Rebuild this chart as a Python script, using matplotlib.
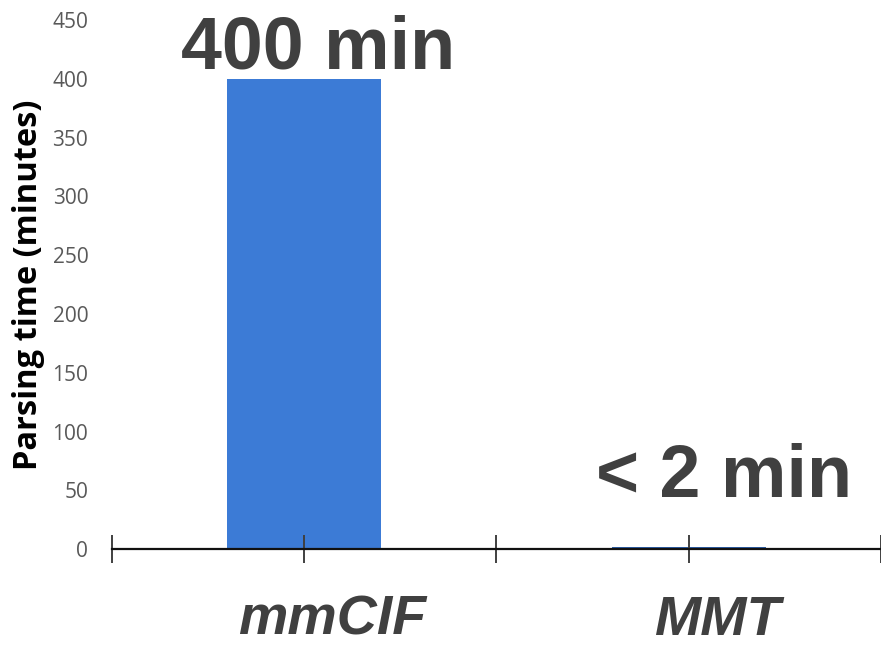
import matplotlib.pyplot as plt
from matplotlib.transforms import ScaledTranslation

formats = ['mmCIF', 'MMT']
minutes = [400, 2]
labels = ['400 min', '< 2 min']
bar_colors = ['#3c7bd6', '#2d5fa8']

fig = plt.figure(figsize=(8.81, 6.46), dpi=100)
ax = fig.add_axes([0.127, 0.150, 0.873, 0.819])

pos = [0.5, 1.5]
ax.bar(pos, minutes, width=0.4, color=bar_colors)

ax.set_xlim(0, 2)
ax.set_ylim(0, 450)
ax.set_yticks(range(0, 451, 50))
ax.tick_params(axis='y', length=0, pad=17, labelsize=15, labelcolor='#595959')
for t in ax.get_yticklabels():
    t.set_fontfamily('Open Sans')

# category labels, shifted a little to the right
ax.xaxis.remove_overlapping_locs = False
ax.set_xticks(pos)
ax.set_xticklabels(formats, fontsize=40, fontweight='bold', fontstyle='italic',
                   color='#404040', fontfamily='Liberation Sans')
ax.tick_params(axis='x', which='major', length=0, pad=33)
shift = ScaledTranslation(0.28, 0, fig.dpi_scale_trans)
for t in ax.get_xticklabels():
    t.set_transform(t.get_transform() + shift)

# tick marks across the axis line
ax.set_xticks([0, 0.5, 1, 1.5, 2], minor=True)
ax.tick_params(axis='x', which='minor', direction='inout', length=20, width=1.4, color='#404040')

for s in ['top', 'right', 'left']:
    ax.spines[s].set_visible(False)
ax.spines['bottom'].set_linewidth(1.6)
ax.spines['bottom'].set_color('#111111')

ax.set_ylabel('Parsing time (minutes)', fontsize=23.5, fontweight='bold',
              fontfamily='Open Sans', color='black', va='center')
ax.yaxis.set_label_coords(-0.108, 0.5)

# value annotations
ax.text(0.536, minutes[0] + 9, labels[0], ha='center', va='baseline', fontsize=53,
        fontweight='bold', color='#404040', fontfamily='Liberation Sans', clip_on=False)
ax.text(1.592, 44, labels[1], ha='center', va='baseline', fontsize=53,
        fontweight='bold', color='#404040', fontfamily='Liberation Sans', clip_on=False)

fig.savefig('out.png', dpi=100)
